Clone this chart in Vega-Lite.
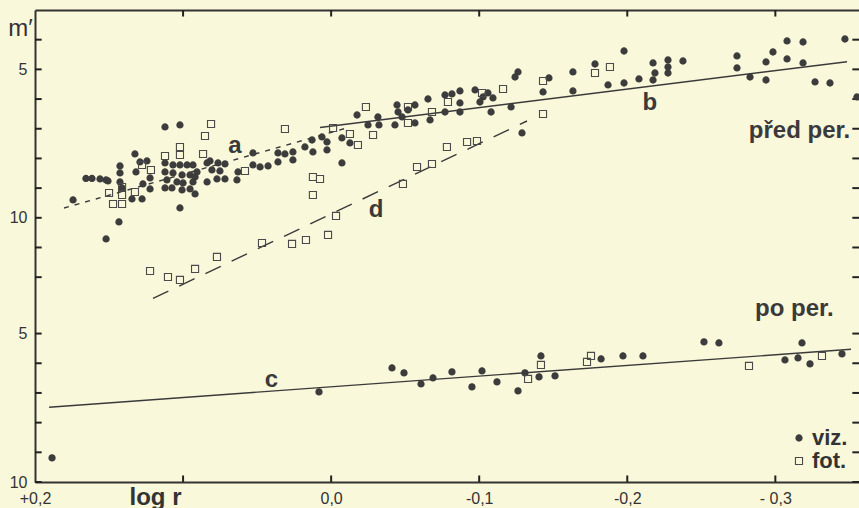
{
  "$schema": "https://vega.github.io/schema/vega-lite/v6.json",
  "width": 824,
  "height": 472,
  "autosize": {"type": "none"},
  "padding": {"left": 35, "top": 10, "right": 0, "bottom": 26},
  "background": "#faf8db",
  "view": {"stroke": null},
  "config": {
    "font": "Liberation Sans",
    "axis": {"domainColor": "#333333", "tickColor": "#222222", "labelColor": "#333333", "titleColor": "#333333", "grid": false}
  },
  "datasets": {
    "yticks": [
      {"m": 4}, {"m": 5}, {"m": 6}, {"m": 7}, {"m": 8}, {"m": 9}, {"m": 10}, {"m": 11}, {"m": 12},
      {"m": 13.9}, {"m": 14.9}, {"m": 15.9}, {"m": 16.9}, {"m": 17.9}, {"m": 18.9}
    ],
    "xticks": [
      {"x": 0.1}, {"x": 0}, {"x": -0.1}, {"x": -0.2}, {"x": -0.3}
    ],
    "pts": [
      {"x": 0.1743, "m": 9.399, "type": "viz."},
      {"x": 0.1656, "m": 8.675, "type": "viz."},
      {"x": 0.1615, "m": 8.675, "type": "viz."},
      {"x": 0.1561, "m": 8.692, "type": "viz."},
      {"x": 0.1520, "m": 8.726, "type": "viz."},
      {"x": 0.1507, "m": 8.759, "type": "viz."},
      {"x": 0.1520, "m": 10.713, "type": "viz."},
      {"x": 0.1433, "m": 10.140, "type": "viz."},
      {"x": 0.1426, "m": 8.254, "type": "viz."},
      {"x": 0.1426, "m": 8.490, "type": "viz."},
      {"x": 0.1426, "m": 8.793, "type": "viz."},
      {"x": 0.1412, "m": 8.995, "type": "viz."},
      {"x": 0.1325, "m": 7.850, "type": "viz."},
      {"x": 0.1318, "m": 8.456, "type": "viz."},
      {"x": 0.1291, "m": 8.120, "type": "viz."},
      {"x": 0.1244, "m": 8.086, "type": "viz."},
      {"x": 0.1271, "m": 8.860, "type": "viz."},
      {"x": 0.1223, "m": 8.658, "type": "viz."},
      {"x": 0.1223, "m": 9.029, "type": "viz."},
      {"x": 0.1345, "m": 9.366, "type": "viz."},
      {"x": 0.1277, "m": 9.366, "type": "viz."},
      {"x": 0.1122, "m": 6.941, "type": "viz."},
      {"x": 0.1021, "m": 6.873, "type": "viz."},
      {"x": 0.1122, "m": 8.153, "type": "viz."},
      {"x": 0.1122, "m": 8.456, "type": "viz."},
      {"x": 0.1109, "m": 8.726, "type": "viz."},
      {"x": 0.1122, "m": 8.995, "type": "viz."},
      {"x": 0.1068, "m": 8.221, "type": "viz."},
      {"x": 0.1021, "m": 8.221, "type": "viz."},
      {"x": 0.0973, "m": 8.221, "type": "viz."},
      {"x": 0.0933, "m": 8.221, "type": "viz."},
      {"x": 0.1068, "m": 8.490, "type": "viz."},
      {"x": 0.1007, "m": 8.557, "type": "viz."},
      {"x": 0.0953, "m": 8.557, "type": "viz."},
      {"x": 0.1041, "m": 8.793, "type": "viz."},
      {"x": 0.1000, "m": 8.827, "type": "viz."},
      {"x": 0.0933, "m": 8.793, "type": "viz."},
      {"x": 0.1075, "m": 8.995, "type": "viz."},
      {"x": 0.1007, "m": 9.063, "type": "viz."},
      {"x": 0.0953, "m": 9.029, "type": "viz."},
      {"x": 0.0919, "m": 9.197, "type": "viz."},
      {"x": 0.1021, "m": 9.669, "type": "viz."},
      {"x": 0.0906, "m": 8.456, "type": "viz."},
      {"x": 0.0838, "m": 8.793, "type": "viz."},
      {"x": 0.0838, "m": 8.153, "type": "viz."},
      {"x": 0.0919, "m": 8.625, "type": "viz."},
      {"x": 0.0818, "m": 8.086, "type": "viz."},
      {"x": 0.0764, "m": 8.153, "type": "viz."},
      {"x": 0.0717, "m": 8.187, "type": "viz."},
      {"x": 0.0805, "m": 8.389, "type": "viz."},
      {"x": 0.0751, "m": 8.423, "type": "viz."},
      {"x": 0.0771, "m": 8.692, "type": "viz."},
      {"x": 0.0717, "m": 8.692, "type": "viz."},
      {"x": 0.0636, "m": 8.726, "type": "viz."},
      {"x": 0.0629, "m": 8.456, "type": "viz."},
      {"x": 0.0528, "m": 7.816, "type": "viz."},
      {"x": 0.0528, "m": 8.221, "type": "viz."},
      {"x": 0.0480, "m": 8.288, "type": "viz."},
      {"x": 0.0426, "m": 8.254, "type": "viz."},
      {"x": 0.0359, "m": 7.816, "type": "viz."},
      {"x": 0.0359, "m": 8.120, "type": "viz."},
      {"x": 0.0312, "m": 7.850, "type": "viz."},
      {"x": 0.0258, "m": 7.783, "type": "viz."},
      {"x": 0.0258, "m": 8.052, "type": "viz."},
      {"x": 0.0177, "m": 7.614, "type": "viz."},
      {"x": 0.0129, "m": 7.379, "type": "viz."},
      {"x": 0.0123, "m": 7.783, "type": "viz."},
      {"x": 0.0062, "m": 7.277, "type": "viz."},
      {"x": 0.0028, "m": 7.446, "type": "viz."},
      {"x": 0.0028, "m": 7.715, "type": "viz."},
      {"x": -0.0073, "m": 8.153, "type": "viz."},
      {"x": -0.0073, "m": 7.311, "type": "viz."},
      {"x": -0.0127, "m": 7.480, "type": "viz."},
      {"x": -0.0175, "m": 6.537, "type": "viz."},
      {"x": -0.0249, "m": 6.873, "type": "viz."},
      {"x": -0.0316, "m": 6.604, "type": "viz."},
      {"x": -0.0323, "m": 6.873, "type": "viz."},
      {"x": -0.0431, "m": 6.873, "type": "viz."},
      {"x": -0.0445, "m": 6.200, "type": "viz."},
      {"x": -0.0452, "m": 6.436, "type": "viz."},
      {"x": -0.0479, "m": 6.604, "type": "viz."},
      {"x": -0.0519, "m": 6.368, "type": "viz."},
      {"x": -0.0566, "m": 6.200, "type": "viz."},
      {"x": -0.0566, "m": 6.806, "type": "viz."},
      {"x": -0.0654, "m": 5.998, "type": "viz."},
      {"x": -0.0668, "m": 6.705, "type": "viz."},
      {"x": -0.0769, "m": 5.863, "type": "viz."},
      {"x": -0.0816, "m": 5.829, "type": "viz."},
      {"x": -0.0870, "m": 5.728, "type": "viz."},
      {"x": -0.0870, "m": 6.132, "type": "viz."},
      {"x": -0.0769, "m": 6.436, "type": "viz."},
      {"x": -0.0870, "m": 6.436, "type": "viz."},
      {"x": -0.0972, "m": 5.694, "type": "viz."},
      {"x": -0.1005, "m": 6.099, "type": "viz."},
      {"x": -0.1059, "m": 5.795, "type": "viz."},
      {"x": -0.1093, "m": 5.964, "type": "viz."},
      {"x": -0.1026, "m": 5.930, "type": "viz."},
      {"x": -0.1080, "m": 6.436, "type": "viz."},
      {"x": -0.1215, "m": 6.267, "type": "viz."},
      {"x": -0.1262, "m": 5.088, "type": "viz."},
      {"x": -0.1242, "m": 5.257, "type": "viz."},
      {"x": -0.1431, "m": 5.762, "type": "viz."},
      {"x": -0.1471, "m": 5.290, "type": "viz."},
      {"x": -0.1289, "m": 7.143, "type": "viz."},
      {"x": -0.1633, "m": 5.088, "type": "viz."},
      {"x": -0.1633, "m": 5.728, "type": "viz."},
      {"x": -0.1782, "m": 4.819, "type": "viz."},
      {"x": -0.1978, "m": 4.381, "type": "viz."},
      {"x": -0.1870, "m": 5.526, "type": "viz."},
      {"x": -0.1978, "m": 5.459, "type": "viz."},
      {"x": -0.2079, "m": 5.324, "type": "viz."},
      {"x": -0.2174, "m": 4.785, "type": "viz."},
      {"x": -0.2187, "m": 5.122, "type": "viz."},
      {"x": -0.2174, "m": 5.358, "type": "viz."},
      {"x": -0.2275, "m": 4.684, "type": "viz."},
      {"x": -0.2275, "m": 4.920, "type": "viz."},
      {"x": -0.2275, "m": 5.122, "type": "viz."},
      {"x": -0.2376, "m": 4.718, "type": "viz."},
      {"x": -0.2741, "m": 4.549, "type": "viz."},
      {"x": -0.2741, "m": 4.953, "type": "viz."},
      {"x": -0.2829, "m": 5.257, "type": "viz."},
      {"x": -0.2937, "m": 4.751, "type": "viz."},
      {"x": -0.2937, "m": 5.358, "type": "viz."},
      {"x": -0.2984, "m": 4.415, "type": "viz."},
      {"x": -0.3079, "m": 4.044, "type": "viz."},
      {"x": -0.3187, "m": 4.078, "type": "viz."},
      {"x": -0.3079, "m": 4.650, "type": "viz."},
      {"x": -0.3187, "m": 4.785, "type": "viz."},
      {"x": -0.3268, "m": 5.425, "type": "viz."},
      {"x": -0.3369, "m": 5.459, "type": "viz."},
      {"x": -0.3470, "m": 3.977, "type": "viz."},
      {"x": -0.3551, "m": 5.930, "type": "viz."},
      {"x": 0.1500, "m": 9.164, "type": "fot."},
      {"x": 0.1412, "m": 8.962, "type": "fot."},
      {"x": 0.1412, "m": 9.231, "type": "fot."},
      {"x": 0.1325, "m": 9.130, "type": "fot."},
      {"x": 0.1473, "m": 9.534, "type": "fot."},
      {"x": 0.1412, "m": 9.534, "type": "fot."},
      {"x": 0.1277, "m": 8.221, "type": "fot."},
      {"x": 0.1217, "m": 8.389, "type": "fot."},
      {"x": 0.1122, "m": 7.917, "type": "fot."},
      {"x": 0.1021, "m": 7.614, "type": "fot."},
      {"x": 0.1021, "m": 7.884, "type": "fot."},
      {"x": 0.0865, "m": 7.850, "type": "fot."},
      {"x": 0.0852, "m": 7.244, "type": "fot."},
      {"x": 0.0811, "m": 6.840, "type": "fot."},
      {"x": 0.0582, "m": 8.423, "type": "fot."},
      {"x": 0.0312, "m": 7.008, "type": "fot."},
      {"x": 0.0123, "m": 8.625, "type": "fot."},
      {"x": 0.0075, "m": 8.692, "type": "fot."},
      {"x": 0.0123, "m": 9.231, "type": "fot."},
      {"x": -0.0127, "m": 7.177, "type": "fot."},
      {"x": -0.0181, "m": 7.547, "type": "fot."},
      {"x": -0.0235, "m": 6.267, "type": "fot."},
      {"x": -0.0283, "m": 7.210, "type": "fot."},
      {"x": -0.0519, "m": 6.806, "type": "fot."},
      {"x": -0.0519, "m": 6.267, "type": "fot."},
      {"x": -0.0681, "m": 6.436, "type": "fot."},
      {"x": -0.0789, "m": 6.099, "type": "fot."},
      {"x": -0.1019, "m": 5.795, "type": "fot."},
      {"x": -0.1161, "m": 5.661, "type": "fot."},
      {"x": -0.1431, "m": 5.391, "type": "fot."},
      {"x": -0.1431, "m": 6.503, "type": "fot."},
      {"x": -0.1782, "m": 5.122, "type": "fot."},
      {"x": -0.1883, "m": 4.920, "type": "fot."},
      {"x": -0.0013, "m": 6.974, "type": "fot."},
      {"x": 0.1223, "m": 11.791, "type": "fot."},
      {"x": 0.1102, "m": 11.993, "type": "fot."},
      {"x": 0.1021, "m": 12.094, "type": "fot."},
      {"x": 0.0919, "m": 11.723, "type": "fot."},
      {"x": 0.0771, "m": 11.319, "type": "fot."},
      {"x": 0.0467, "m": 10.848, "type": "fot."},
      {"x": 0.0264, "m": 10.881, "type": "fot."},
      {"x": 0.0170, "m": 10.747, "type": "fot."},
      {"x": 0.0021, "m": 10.578, "type": "fot."},
      {"x": -0.0033, "m": 9.938, "type": "fot."},
      {"x": -0.0485, "m": 8.860, "type": "fot."},
      {"x": -0.0580, "m": 8.288, "type": "fot."},
      {"x": -0.0681, "m": 8.187, "type": "fot."},
      {"x": -0.0782, "m": 7.614, "type": "fot."},
      {"x": -0.0918, "m": 7.446, "type": "fot."},
      {"x": -0.0985, "m": 7.412, "type": "fot."},
      {"x": 0.1885, "m": 18.089, "type": "viz."},
      {"x": 0.0082, "m": 15.866, "type": "viz."},
      {"x": -0.0411, "m": 15.058, "type": "viz."},
      {"x": -0.0492, "m": 15.226, "type": "viz."},
      {"x": -0.0607, "m": 15.597, "type": "viz."},
      {"x": -0.0688, "m": 15.395, "type": "viz."},
      {"x": -0.0816, "m": 15.192, "type": "viz."},
      {"x": -0.0951, "m": 15.697, "type": "viz."},
      {"x": -0.1019, "m": 15.159, "type": "viz."},
      {"x": -0.1120, "m": 15.529, "type": "viz."},
      {"x": -0.1262, "m": 15.832, "type": "viz."},
      {"x": -0.1309, "m": 15.226, "type": "viz."},
      {"x": -0.1417, "m": 14.654, "type": "viz."},
      {"x": -0.1404, "m": 15.361, "type": "viz."},
      {"x": -0.1512, "m": 15.327, "type": "viz."},
      {"x": -0.1823, "m": 14.755, "type": "viz."},
      {"x": -0.1971, "m": 14.654, "type": "viz."},
      {"x": -0.2106, "m": 14.654, "type": "viz."},
      {"x": -0.2518, "m": 14.182, "type": "viz."},
      {"x": -0.2619, "m": 14.216, "type": "viz."},
      {"x": -0.3180, "m": 14.216, "type": "viz."},
      {"x": -0.3065, "m": 14.789, "type": "viz."},
      {"x": -0.3153, "m": 14.721, "type": "viz."},
      {"x": -0.3234, "m": 14.923, "type": "viz."},
      {"x": -0.3450, "m": 14.586, "type": "viz."},
      {"x": -0.1330, "m": 15.428, "type": "fot."},
      {"x": -0.1417, "m": 14.957, "type": "fot."},
      {"x": -0.1728, "m": 14.856, "type": "fot."},
      {"x": -0.1755, "m": 14.654, "type": "fot."},
      {"x": -0.2822, "m": 14.990, "type": "fot."},
      {"x": -0.3315, "m": 14.654, "type": "fot."}
    ],
    "lines": [
      {"line": "a", "x": 0.1804, "m": 9.669},
      {"line": "a", "x": -0.0094, "m": 6.991},
      {"line": "b", "x": 0.0075, "m": 6.958},
      {"line": "b", "x": -0.3484, "m": 4.741},
      {"line": "c", "x": 0.1905, "m": 16.38},
      {"line": "c", "x": -0.3511, "m": 14.43},
      {"line": "d", "x": 0.1203, "m": 12.717},
      {"line": "d", "x": -0.1323, "m": 6.739}
    ],
    "labels": [
      {"x": 0.0649, "m": 7.816, "text": "a"},
      {"x": -0.2153, "m": 6.368, "text": "b"},
      {"x": 0.0403, "m": 15.698, "text": "c"},
      {"x": -0.0303, "m": 9.972, "text": "d"},
      {"x": -0.3163, "m": 7.311, "text": "před per."},
      {"x": -0.3129, "m": 13.306, "text": "po per."}
    ]
  },
  "resolve": {"axis": {"x": "independent", "y": "independent"}},
  "layer": [
    {
      "data": {"name": "lines"},
      "transform": [{"filter": "datum.line == 'a' || datum.line == 'd'"}],
      "mark": {"type": "line", "color": "#3a3a3a", "strokeWidth": 1.4},
      "encoding": {
        "x": {"field": "x", "type": "quantitative",
          "scale": {"domain": [-0.3565, 0.2], "reverse": true, "nice": false, "zero": false},
          "axis": {"orient": "top", "values": [0.2, 0.1, 0, -0.1, -0.2, -0.3], "labels": false, "ticks": false, "title": null, "domainWidth": 2}},
        "y": {"field": "m", "type": "quantitative",
          "scale": {"domain": [3, 18.9], "reverse": true, "nice": false, "zero": false},
          "axis": null},
        "detail": {"field": "line", "type": "nominal"},
        "strokeDash": {"field": "line", "type": "nominal",
          "scale": {"domain": ["a", "d"], "range": [[5, 6], [17, 12]]},
          "legend": null}
      }
    },
    {
      "data": {"name": "lines"},
      "transform": [{"filter": "datum.line == 'b' || datum.line == 'c'"}],
      "mark": {"type": "line", "color": "#3a3a3a", "strokeWidth": 1.4},
      "encoding": {
        "x": {"field": "x", "type": "quantitative", "axis": null},
        "y": {"field": "m", "type": "quantitative", "axis": null},
        "detail": {"field": "line", "type": "nominal"}
      }
    },
    {
      "data": {"name": "yticks"},
      "mark": {"type": "rule", "color": "#222222", "strokeWidth": 2, "opacity": 1},
      "encoding": {
        "y": {"field": "m", "type": "quantitative", "axis": null},
        "x": {"datum": 0.2, "type": "quantitative", "axis": null},
        "x2": {"datum": 0.1955}
      }
    },
    {
      "data": {"name": "yticks"},
      "mark": {"type": "rule", "color": "#222222", "strokeWidth": 2, "opacity": 1},
      "encoding": {
        "y": {"field": "m", "type": "quantitative", "axis": null},
        "x": {"datum": -0.3565, "type": "quantitative", "axis": null},
        "x2": {"datum": -0.352}
      }
    },
    {
      "data": {"name": "xticks"},
      "mark": {"type": "rule", "color": "#222222", "strokeWidth": 2, "opacity": 1},
      "encoding": {
        "x": {"field": "x", "type": "quantitative", "axis": null},
        "y": {"datum": 18.9, "type": "quantitative", "axis": null},
        "y2": {"datum": 18.68}
      }
    },
    {
      "data": {"name": "xticks"},
      "mark": {"type": "rule", "color": "#222222", "strokeWidth": 2, "opacity": 1},
      "encoding": {
        "x": {"field": "x", "type": "quantitative", "axis": null},
        "y": {"datum": 3, "type": "quantitative", "axis": null},
        "y2": {"datum": 3.22}
      }
    },
    {
      "data": {"name": "pts"},
      "mark": {"type": "point", "strokeWidth": 1.1, "opacity": 1},
      "encoding": {
        "x": {"field": "x", "type": "quantitative",
          "axis": {"orient": "bottom", "values": [0.2, 0.1, 0, -0.1, -0.2, -0.3],
            "labelExpr": "datum.value == 0.2 ? '+0,2' : datum.value == 0.1 ? '' : datum.value == 0 ? '0,0' : datum.value == -0.1 ? '-0,1' : datum.value == -0.2 ? '-0,2' : '- 0,3'",
            "ticks": false, "labelPadding": 8, "labelFontSize": 16, "labelFlush": false, "labelOverlap": false, "domainWidth": 2,
            "title": "log r", "titleX": 120, "titleY": 3, "titleAlign": "center", "titleBaseline": "top", "titleFontSize": 24, "titleFontWeight": "bold"}},
        "y": {"field": "m", "type": "quantitative",
          "axis": {"orient": "left", "values": [4, 5, 6, 7, 8, 9, 10, 11, 12, 13.9, 14.9, 15.9, 16.9, 17.9, 18.9],
            "labelExpr": "(datum.value == 5 || datum.value == 13.9) ? '5' : (datum.value == 10 || datum.value == 18.9) ? '10' : ''",
            "ticks": false, "labelPadding": 8, "labelFontSize": 16, "labelFlush": false, "labelOverlap": false, "domainWidth": 2,
            "title": "m′", "titleAngle": 0, "titleX": -15, "titleY": 18, "titleAlign": "center", "titleBaseline": "middle", "titleFontSize": 24, "titleFontWeight": "normal"}},
        "shape": {"field": "type", "type": "nominal", "scale": {"domain": ["viz.", "fot."], "range": ["circle", "square"]}},
        "fill": {"field": "type", "type": "nominal", "scale": {"domain": ["viz.", "fot."], "range": ["#3c3c3c", "transparent"]}},
        "stroke": {"field": "type", "type": "nominal", "scale": {"domain": ["viz.", "fot."], "range": ["#3c3c3c", "#4a4a4a"]}},
        "size": {"field": "type", "type": "nominal", "scale": {"domain": ["viz.", "fot."], "range": [38, 50]},
          "legend": {"orient": "none", "legendX": 753, "legendY": 417, "title": null, "labelFontSize": 22, "labelFontWeight": "bold", "labelColor": "#333333", "labelOffset": 2, "rowPadding": 1, "symbolStrokeWidth": 1.1, "padding": 0}}
      }
    },
    {
      "data": {"name": "labels"},
      "mark": {"type": "text", "font": "Liberation Sans", "fontWeight": "bold", "fontSize": 24, "color": "#3a3a3a", "align": "center", "baseline": "alphabetic"},
      "encoding": {
        "x": {"field": "x", "type": "quantitative", "axis": null},
        "y": {"field": "m", "type": "quantitative", "axis": null},
        "text": {"field": "text", "type": "nominal"}
      }
    }
  ]
}
